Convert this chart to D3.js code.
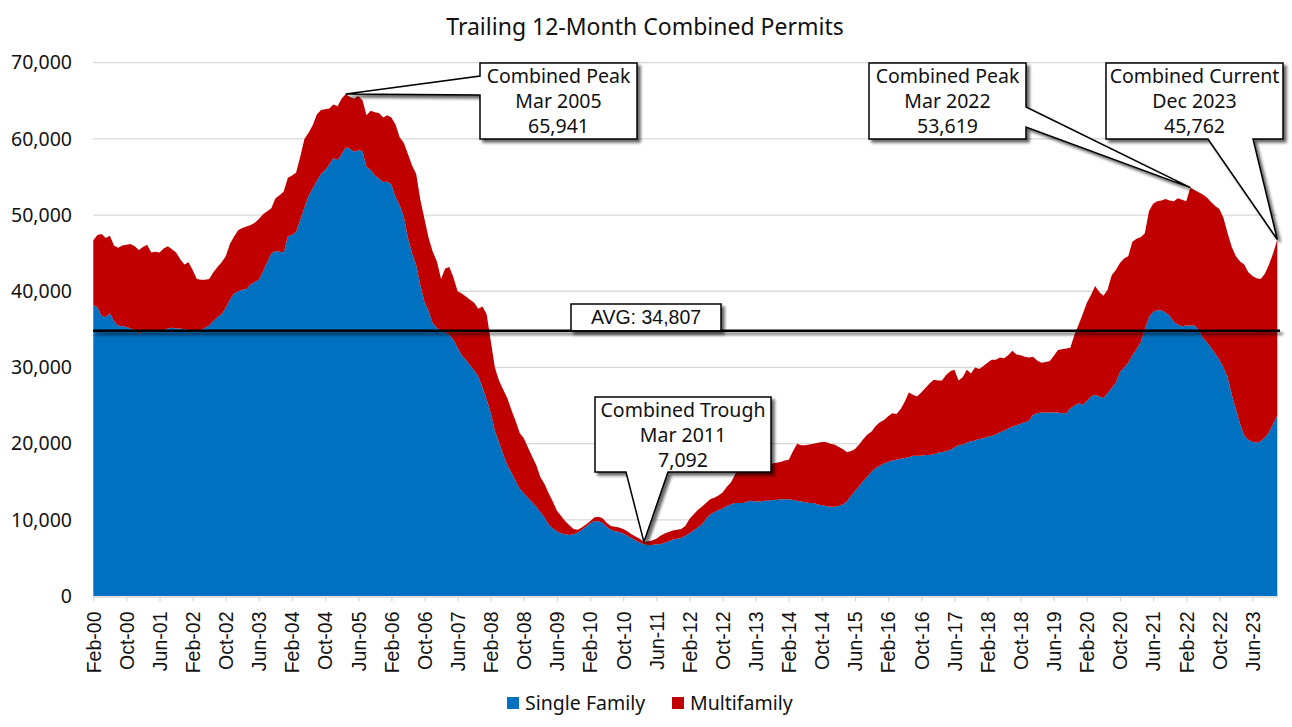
<!DOCTYPE html>
<html><head><meta charset="utf-8">
<script src="https://cdn.jsdelivr.net/npm/d3@7"></script>
<style>body{margin:0;background:#fff} svg{display:block}</style>
</head><body>
<svg id="chart" width="1292" height="727"></svg>
<script>
// Trailing 12-month permits, in thousands, monthly Feb-2000 .. Dec-2023
const singleFamily = [
38.2,37.9,36.8,36.6,37.1,36.1,35.5,35.4,35.3,35.1,
34.9,34.5,34.7,34.9,34.8,34.7,34.7,34.9,35.1,35.2,
35.1,35.1,35.0,34.9,34.9,34.9,34.9,35.2,35.5,36.1,
36.6,37.0,37.8,38.9,39.7,40.0,40.2,40.3,40.9,41.2,
41.5,42.6,43.8,45.0,45.3,45.2,45.1,47.2,47.4,47.8,
49.4,51.0,52.5,53.5,54.5,55.4,55.9,56.6,57.5,57.2,
58.0,58.9,58.7,58.3,58.5,58.4,56.3,55.9,55.2,54.8,
54.3,54.4,54.0,52.4,51.3,49.8,47.0,45.0,43.4,40.8,
38.6,37.4,35.8,35.2,34.8,34.6,34.3,33.6,32.6,31.6,
31.0,30.3,29.6,28.8,27.4,25.8,24.1,21.7,20.2,18.6,
17.2,16.2,15.1,14.1,13.5,12.9,12.3,11.7,11.0,10.3,
9.4,8.9,8.5,8.2,8.1,8.0,8.1,8.3,8.7,9.1,
9.5,9.8,9.8,9.6,9.1,8.7,8.5,8.4,8.2,7.9,
7.6,7.3,7.0,6.8,6.7,6.7,6.8,6.8,7.0,7.2,
7.4,7.5,7.6,7.9,8.2,8.6,9.0,9.4,10.1,10.7,
11.0,11.3,11.5,11.8,12.0,12.2,12.2,12.2,12.4,12.5,
12.4,12.4,12.5,12.5,12.6,12.6,12.7,12.7,12.7,12.6,
12.5,12.4,12.3,12.2,12.2,12.0,11.9,11.8,11.7,11.7,
11.8,12.0,12.4,13.1,13.8,14.4,15.1,15.7,16.3,16.8,
17.1,17.4,17.6,17.8,17.9,18.0,18.1,18.2,18.4,18.4,
18.4,18.5,18.5,18.6,18.8,18.9,19.0,19.2,19.5,19.8,
19.9,20.1,20.3,20.4,20.6,20.7,20.9,21.0,21.2,21.5,
21.7,22.0,22.2,22.4,22.6,22.8,23.0,23.8,24.0,24.1,
24.1,24.1,24.1,24.1,24.0,24.0,24.6,25.0,25.3,25.1,
25.6,26.2,26.4,26.2,26.0,26.6,27.3,28.0,29.4,30.0,
30.6,31.6,32.4,33.3,35.0,36.6,37.3,37.5,37.5,37.2,
36.8,36.0,35.6,35.4,35.5,35.5,35.5,35.0,33.9,33.3,
32.6,31.8,31.0,30.0,28.7,26.4,24.5,22.6,21.1,20.5,
20.2,20.1,20.3,20.8,21.5,22.6,23.7];

const multifamily = [
8.5,9.5,10.7,10.4,10.2,9.9,10.2,10.6,10.8,11.1,
11.0,10.9,11.1,11.2,10.3,10.5,10.4,10.7,10.8,10.3,
10.0,9.1,8.5,8.9,7.9,6.7,6.6,6.3,6.1,6.4,
6.6,6.8,6.8,7.3,7.5,8.0,8.1,8.2,7.8,7.8,
8.0,7.5,6.7,5.9,6.9,7.4,8.0,7.7,7.8,7.8,
8.3,9.0,8.3,8.3,8.7,8.4,8.0,7.4,7.0,7.1,
7.3,7.0,6.8,7.0,7.1,6.7,6.8,7.8,8.3,8.6,
8.5,8.7,8.8,9.5,8.9,9.7,11.0,11.5,12.0,11.2,
10.9,9.6,9.4,8.7,6.8,8.4,8.9,8.2,7.4,8.1,
8.3,8.6,8.9,8.9,10.6,11.2,9.4,8.3,8.1,8.5,
8.8,8.2,7.9,7.3,7.2,6.6,6.0,5.5,4.6,4.4,
4.1,3.5,2.7,2.3,1.7,1.3,0.7,0.4,0.3,0.3,
0.3,0.5,0.6,0.6,0.5,0.5,0.6,0.6,0.6,0.6,
0.5,0.5,0.5,0.3,0.5,0.6,0.7,1.1,1.2,1.2,
1.2,1.2,1.2,1.3,1.9,2.1,2.3,2.3,2.1,2.0,
1.9,1.9,2.1,2.5,2.9,3.7,4.8,4.9,4.8,4.7,
4.8,4.9,4.7,4.8,4.8,4.9,4.9,5.1,5.2,6.4,
7.5,7.4,7.5,7.7,7.8,8.1,8.3,8.4,8.3,8.2,
7.8,7.3,6.5,5.9,5.5,5.5,5.5,5.5,5.3,5.5,
5.7,5.7,6.0,6.2,6.0,6.5,7.4,8.5,8.0,7.8,
8.3,8.8,9.4,9.8,9.5,9.4,10.0,10.3,10.2,8.5,
8.8,9.6,8.9,9.6,9.2,9.5,9.7,10.0,9.8,9.8,
9.5,9.6,10.0,9.3,9.0,8.6,8.3,7.6,6.9,6.5,
6.6,6.7,7.4,8.2,8.4,8.5,8.0,9.3,10.3,11.9,
12.9,13.3,14.3,13.7,13.4,13.6,14.8,14.8,14.3,14.3,
14.0,14.9,14.5,13.8,12.6,13.9,14.2,14.3,14.4,14.9,
15.1,15.8,16.6,16.6,16.3,18.1,17.8,18.0,18.8,19.0,
19.1,19.4,19.8,19.6,18.9,19.4,20.1,21.3,22.4,22.0,
21.8,21.6,21.3,21.5,22.0,22.4,23.1];

const tickLabels = ["Feb-00","Oct-00","Jun-01","Feb-02","Oct-02","Jun-03","Feb-04","Oct-04","Jun-05",
"Feb-06","Oct-06","Jun-07","Feb-08","Oct-08","Jun-09","Feb-10","Oct-10","Jun-11","Feb-12","Oct-12",
"Jun-13","Feb-14","Oct-14","Jun-15","Feb-16","Oct-16","Jun-17","Feb-18","Oct-18","Jun-19","Feb-20",
"Oct-20","Jun-21","Feb-22","Oct-22","Jun-23"];
const yTicks = [0,10000,20000,30000,40000,50000,60000,70000];
const seriesNames = ["Single Family","Multifamily"];
const seriesColors = ["#0070C0","#C00000"];
const averageValue = 34807;
const calloutLines = [
  ["Combined Peak","Mar 2005","65,941"],
  ["Combined Trough","Mar 2011","7,092"],
  ["Combined Peak","Mar 2022","53,619"],
  ["Combined Current","Dec 2023","45,762"]
];
const calloutMonths = ["Mar-05","Mar-11","Mar-22","Dec-23"];

// ---------------------------------------------------------------
const months = d3.timeMonth.range(new Date(2000,1,1), new Date(2024,0,1)).map(d3.timeFormat("%b-%y"));
const rows = months.map((m,i)=>({month:m, "Single Family":singleFamily[i]*1000, "Multifamily":multifamily[i]*1000}));

const svg = d3.select("#chart");
const defs = svg.append("defs");
const f = defs.append("filter").attr("id","shadow").attr("filterUnits","userSpaceOnUse")
  .attr("x",0).attr("y",0).attr("width",1292).attr("height",727);
f.append("feDropShadow").attr("dx",3).attr("dy",3).attr("stdDeviation",1.6).attr("flood-color","#000").attr("flood-opacity",0.6);

const x = d3.scalePoint().domain(months).range([93.3,1277.3]);
const y = d3.scaleLinear().domain([0,70000]).range([596,62.7]);

const SANS = "'Noto Sans', 'Open Sans', sans-serif";
const ARIAL = "'Liberation Sans', Arial, sans-serif";

// title
svg.append("text").attr("x",645).attr("y",27).attr("dy","0.35em").attr("text-anchor","middle")
  .style("font-family",SANS).style("font-size","23px").style("fill","#111").text("Trailing 12-Month Combined Permits");

// grid
svg.append("g").selectAll("line").data(yTicks.filter(t=>t>0)).join("line")
  .attr("x1",93).attr("x2",1277).attr("y1",d=>y(d)).attr("y2",d=>y(d))
  .attr("stroke","#d9d9d9").attr("stroke-width",1.3);

// y labels
const yAxis = d3.axisLeft(y).tickValues(yTicks).tickFormat(d3.format(",")).tickSize(0).tickPadding(0);
const gy = svg.append("g").attr("transform","translate(72,0)").call(yAxis);
gy.select(".domain").remove();
gy.selectAll("text").style("font-family",SANS).style("font-size","19.5px").style("fill","#111");

// stacked areas
const stack = d3.stack().keys(seriesNames);
const layers = stack(rows);
const area = d3.area().x(d=>x(d.data.month)).y0(d=>y(d[0])).y1(d=>y(d[1]));
svg.append("g").selectAll("path").data(layers).join("path")
  .attr("d",area).attr("fill",(d,i)=>seriesColors[i]);

// x axis
const xAxis = d3.axisBottom(x).tickValues(tickLabels).tickSize(5).tickSizeOuter(0);
const gx = svg.append("g").attr("transform","translate(0,596.5)").call(xAxis);
gx.select(".domain").attr("stroke","#d9d9d9").attr("stroke-width",1.3);
gx.selectAll(".tick line").attr("stroke","#d9d9d9").attr("stroke-width",1.3);
gx.selectAll("text").attr("transform","rotate(-90)").attr("x",-15).attr("y",0).attr("dy","0.35em")
  .style("text-anchor","end").style("font-family",ARIAL).style("font-size","19.5px").style("fill","#111");

// average line
svg.append("line").attr("x1",93).attr("x2",1280).attr("y1",y(averageValue)).attr("y2",y(averageValue))
  .attr("stroke","#000").attr("stroke-width",2.5).attr("filter","url(#shadow)");
svg.append("rect").attr("x",571).attr("y",304).attr("width",150).attr("height",y(averageValue)-304)
  .attr("fill","#fff").attr("stroke","#000").attr("stroke-width",1.5).attr("filter","url(#shadow)");
svg.append("text").attr("x",646).attr("y",317.5).attr("dy","0.35em").attr("text-anchor","middle")
  .style("font-family",ARIAL).style("font-size","19.5px").style("fill","#111").text("AVG: " + d3.format(",")(averageValue));

// callouts
const total = m => { const i = months.indexOf(m); return (singleFamily[i]+multifamily[i])*1000; };
const tip = m => [x(m), y(total(m))];
const boxes = [
  {x0:480,y0:63,x1:637,y1:139, path:(t)=>`M480,63H637V139H480V95L${t[0]},${t[1]}L480,76Z`},
  {x0:595,y0:397,x1:771,y1:472, path:(t)=>`M595,397H771V472H668L${t[0]},${t[1]}L626,472H595Z`},
  {x0:869,y0:63,x1:1026,y1:139, path:(t)=>`M869,63H1026V107L${t[0]},${t[1]}L1026,127V139H869Z`},
  {x0:1106,y0:63,x1:1283,y1:139, path:(t)=>`M1106,63H1283V139H1253L${t[0]},${t[1]}L1208,139H1106Z`}
];
const cg = svg.append("g");
boxes.forEach((b,k)=>{
  const t = tip(calloutMonths[k]);
  cg.append("path").attr("d",b.path(t)).attr("fill","#fff").attr("stroke","#000").attr("stroke-width",1.5)
    .attr("stroke-linejoin","miter").attr("filter","url(#shadow)");
  const cx = (b.x0+b.x1)/2;
  calloutLines[k].forEach((ln,j)=>{
    cg.append("text").attr("x",cx).attr("y",b.y0+13+j*25).attr("dy","0.35em").attr("text-anchor","middle")
      .style("font-family",SANS).style("font-size","19.5px").style("fill","#111").text(ln);
  });
});

// legend
const legendX = [507,672];
const lg = svg.append("g");
seriesNames.forEach((s,i)=>{
  lg.append("rect").attr("x",legendX[i]).attr("y",697).attr("width",12).attr("height",12).attr("fill",seriesColors[i]);
  lg.append("text").attr("x",legendX[i]+18).attr("y",703).attr("dy","0.35em")
    .style("font-family",SANS).style("font-size","19.5px").style("fill","#111").text(s);
});
</script>
</body></html>
